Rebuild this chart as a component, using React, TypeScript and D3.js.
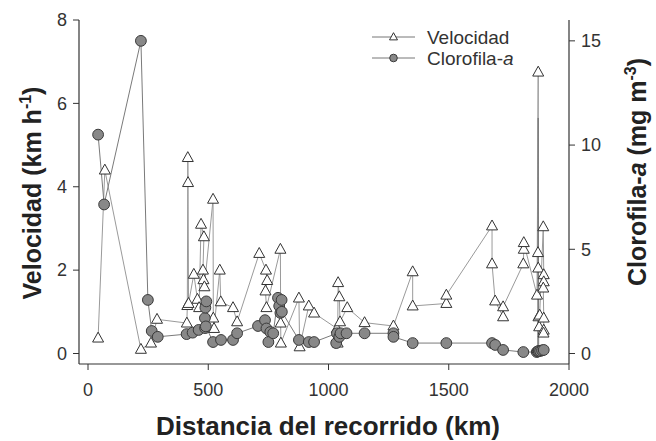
import React from "react";
import * as d3 from "d3";

// Velocidad (km h-1) — triangles, left axis
const velDist = [42, 70, 220, 262, 287, 411, 413, 415, 416, 418, 440, 455, 462, 470, 482, 478, 480, 484, 520, 521, 524, 548, 552, 603, 620, 712, 740, 745, 738, 742, 800, 801, 802, 877, 880, 918, 940, 1035, 1038, 1040, 1045, 1048, 1078, 1150, 1270, 1350, 1350, 1490, 1490, 1680, 1680, 1693, 1726, 1726, 1810, 1812, 1812, 1867, 1872, 1871, 1872, 1873, 1876, 1878, 1893, 1895, 1895, 1893, 1895, 1895, 1894];
const velocidad = [0.37, 4.4, 0.1, 0.25, 0.82, 0.73, 1.15, 4.7, 4.1, 1.2, 1.9, 1.3, 1.1, 3.1, 2.8, 2.0, 1.77, 1.6, 3.7, 0.85, 0.6, 2.0, 1.24, 1.1, 0.76, 2.4, 2.0, 1.75, 1.5, 1.1, 2.5, 0.73, 0.25, 1.33, 0.16, 1.14, 0.97, 0.6, 0.25, 1.7, 1.36, 0.76, 1.1, 0.74, 0.66, 1.96, 1.14, 1.2, 1.4, 3.06, 2.15, 1.26, 0.88, 1.12, 2.15, 2.5, 2.66, 1.4, 6.75, 2.42, 2.05, 0.88, 0.64, 0.92, 3.04, 1.89, 1.72, 1.57, 0.85, 0.56, 0.49];

// Clorofila-a (mg m-3) — circles, right axis
const chlDist = [42, 67, 220, 249, 265, 290, 410, 435, 460, 487, 486, 488, 492, 490, 520, 553, 603, 620, 707, 736, 742, 758, 750, 770, 790, 795, 800, 805, 806, 877, 918, 940, 1035, 1032, 1045, 1050, 1075, 1150, 1270, 1270, 1350, 1490, 1680, 1693, 1726, 1810, 1866, 1870, 1872, 1874, 1880, 1888, 1895];
const clorofila = [10.5, 7.15, 15.0, 2.57, 1.08, 0.8, 0.93, 1.0, 1.13, 1.22, 1.7, 2.2, 2.5, 1.3, 0.55, 0.65, 0.65, 0.97, 1.32, 1.6, 1.2, 1.03, 0.55, 0.97, 2.67, 2.28, 1.95, 2.57, 2.0, 0.65, 0.55, 0.55, 0.97, 0.5, 0.8, 0.97, 0.97, 0.97, 0.97, 0.8, 0.5, 0.5, 0.5, 0.41, 0.17, 0.07, 0.07, 0.1, 11.3, 0.12, 0.12, 0.15, 0.17];
const chlNoSymbol = [1872];

const xTicks = [0, 500, 1000, 1500, 2000];
const yLeftTicks = [0, 2, 4, 6, 8];
const yRightTicks = [0, 5, 10, 15];

const FONT = "'Liberation Sans', Arial, sans-serif";

export default function App() {
  const x = d3.scaleLinear().domain([0, 2000]).range([88, 569]);
  const yL = d3.scaleLinear().domain([0, 8]).range([353.5, 20]);
  const yR = d3.scaleLinear().domain([0, 16]).range([353.5, 20]);

  const velPts = velDist.map((d, i) => [x(d), yL(velocidad[i])] as [number, number]);
  const chlPts = chlDist.map((d, i) => [x(d), yR(clorofila[i])] as [number, number]);
  const line = d3.line();

  const tri = (cx: number, cy: number, s: number) => {
    const h = s * 0.9;
    return `M${cx},${cy - h * 0.6}L${cx + s / 2},${cy + h * 0.4}L${cx - s / 2},${cy + h * 0.4}Z`;
  };

  const axisColor = "#333";
  const lineColorV = "#9a9a9a";
  const lineColorC = "#7a7a7a";
  const left = 79, right = 569, bottom = 364, top = 20;

  return (
    <svg width={656} height={441} style={{ position: "absolute", left: 0, top: 0, background: "#fff" }} fontFamily={FONT}>
      {/* lines */}
      <path d={line(velPts) || ""} fill="none" stroke={lineColorV} strokeWidth={1} />
      <path d={line(chlPts) || ""} fill="none" stroke={lineColorC} strokeWidth={1} />
      {/* markers */}
      {velPts.map((p, i) => (
        <path key={"v" + i} d={tri(p[0], p[1], 11)} fill="#fff" stroke="#333" strokeWidth={1} />
      ))}
      {chlPts.map((p, i) =>
        chlNoSymbol.includes(chlDist[i]) ? null : (
          <circle key={"c" + i} cx={p[0]} cy={p[1]} r={5.4} fill="#888" stroke="#3a3a3a" strokeWidth={1} />
        )
      )}

      {/* axes */}
      <line x1={left} y1={top} x2={left} y2={bottom} stroke={axisColor} strokeWidth={1.2} />
      <line x1={left} y1={bottom} x2={right} y2={bottom} stroke={axisColor} strokeWidth={1.2} />
      <line x1={right} y1={top} x2={right} y2={bottom} stroke={axisColor} strokeWidth={1.2} />

      {yLeftTicks.map((t) => (
        <g key={"yl" + t}>
          <line x1={left - 6} x2={left} y1={yL(t)} y2={yL(t)} stroke={axisColor} />
          <text x={left - 12} y={yL(t)} dy="0.35em" textAnchor="end" fontSize={18} fill="#333">{t}</text>
        </g>
      ))}
      {yRightTicks.map((t) => (
        <g key={"yr" + t}>
          <line x1={right} x2={right + 6} y1={yR(t)} y2={yR(t)} stroke={axisColor} />
          <text x={right + 12} y={yR(t)} dy="0.35em" textAnchor="start" fontSize={18} fill="#333">{t}</text>
        </g>
      ))}
      {xTicks.map((t) => (
        <g key={"x" + t}>
          <line x1={x(t)} x2={x(t)} y1={bottom} y2={bottom + 6} stroke={axisColor} />
          <text x={x(t)} y={bottom + 32} textAnchor="middle" fontSize={18} fill="#333">{t}</text>
        </g>
      ))}

      {/* axis titles */}
      <text x={328} y={435} textAnchor="middle" fontSize={26} fontWeight="bold" fill="#222">
        Distancia del recorrido (km)
      </text>
      <text transform="translate(41,193) rotate(-90)" textAnchor="middle" fontSize={25} fontWeight="bold" fill="#222">
        Velocidad (km h<tspan dy={-10} fontSize={16}>-1</tspan><tspan dy={10}>)</tspan>
      </text>
      <text transform="translate(646,172) rotate(-90)" textAnchor="middle" fontSize={25} fontWeight="bold" fill="#222">
        Clorofila-<tspan fontStyle="italic">a</tspan> (mg m<tspan dy={-10} fontSize={16}>-3</tspan><tspan dy={10}>)</tspan>
      </text>

      {/* legend */}
      <g>
        <line x1={372} x2={415} y1={37} y2={37} stroke="#777" />
        <path d={tri(393.5, 37, 8)} fill="#fff" stroke="#333" />
        <text x={427} y={37} dy="0.35em" fontSize={19} fill="#333">Velocidad</text>
        <line x1={372} x2={415} y1={58} y2={58} stroke="#777" />
        <circle cx={393.5} cy={58} r={3.8} fill="#888" stroke="#3a3a3a" />
        <text x={427} y={58} dy="0.35em" fontSize={19} fill="#333">
          Clorofila-<tspan fontStyle="italic">a</tspan>
        </text>
      </g>
    </svg>
  );
}
